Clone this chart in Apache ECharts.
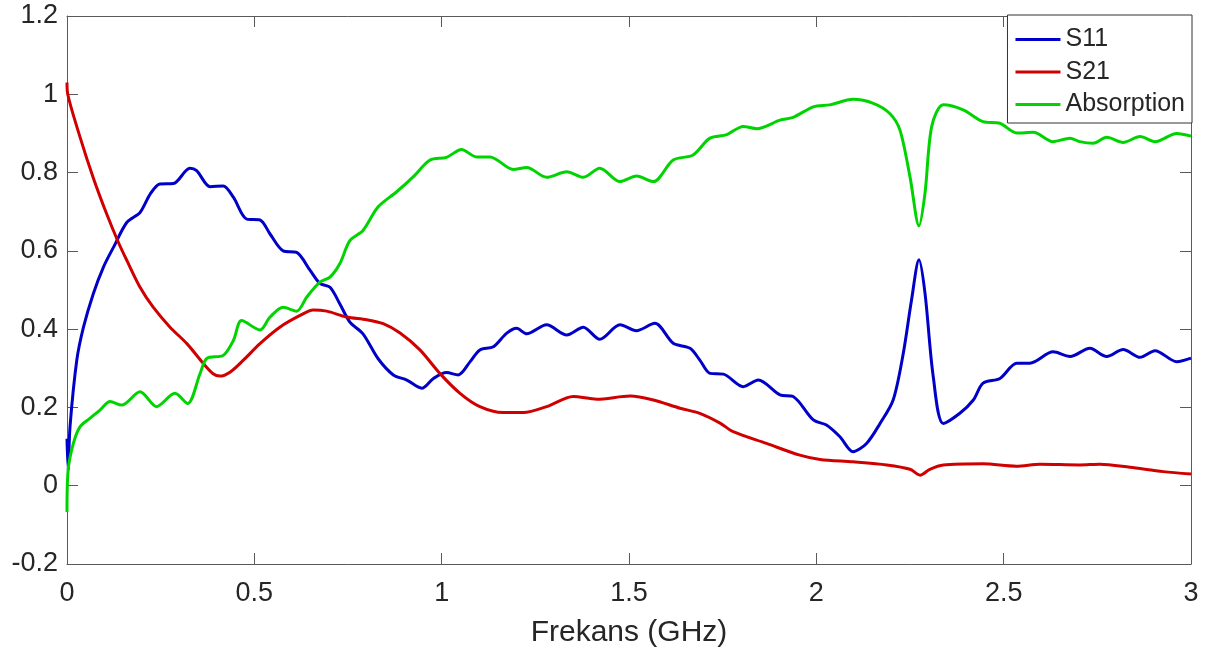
<!DOCTYPE html>
<html>
<head>
<meta charset="utf-8">
<script src="https://cdn.jsdelivr.net/npm/echarts@6/dist/echarts.min.js"></script>
<style>
html,body{margin:0;padding:0;background:#fff;}
#chart{width:1215px;height:655px;}
</style>
</head>
<body>
<div id="chart"></div>
<script>
// ---- Data ----
const seriesNames = ["S11", "S21", "Absorption"];
const xTicks = [0, 0.5, 1, 1.5, 2, 2.5, 3];
const yTicks = [-0.2, 0, 0.2, 0.4, 0.6, 0.8, 1, 1.2];
const xAxisName = "Frekans (GHz)";

const s11X = [0,0.003,0.008,0.026,0.044,0.07,0.097,0.124,0.16,0.195,0.222,0.248,0.284,0.328,0.346,0.382,0.417,0.444,0.48,0.515,0.542,0.577,0.613,0.649,0.675,0.702,0.728,0.755,0.79,0.83,0.871,0.907,0.947,0.978,1.013,1.044,1.076,1.102,1.138,1.173,1.2,1.227,1.28,1.334,1.378,1.422,1.476,1.52,1.569,1.618,1.663,1.689,1.716,1.752,1.805,1.845,1.903,1.938,1.992,2.027,2.063,2.098,2.134,2.17,2.205,2.232,2.254,2.274,2.29,2.312,2.339,2.383,2.419,2.445,2.49,2.535,2.57,2.632,2.677,2.73,2.775,2.819,2.864,2.904,2.962,3.0];
const s11Y = [0.12,0.04,0.15,0.32,0.405,0.49,0.558,0.609,0.673,0.698,0.745,0.771,0.772,0.811,0.805,0.764,0.766,0.737,0.681,0.679,0.643,0.60,0.596,0.55,0.517,0.507,0.465,0.418,0.388,0.325,0.283,0.270,0.249,0.274,0.289,0.283,0.317,0.347,0.355,0.389,0.402,0.388,0.411,0.385,0.405,0.374,0.411,0.396,0.415,0.364,0.351,0.321,0.287,0.285,0.253,0.270,0.232,0.228,0.168,0.155,0.125,0.087,0.108,0.159,0.219,0.338,0.474,0.577,0.492,0.279,0.159,0.185,0.219,0.262,0.274,0.313,0.313,0.342,0.33,0.351,0.33,0.348,0.328,0.345,0.317,0.326];

const s21X = [0,0.002,0.035,0.07,0.106,0.137,0.16,0.195,0.23,0.275,0.32,0.364,0.39,0.408,0.435,0.47,0.515,0.568,0.622,0.657,0.693,0.746,0.80,0.844,0.889,0.942,0.995,1.049,1.102,1.164,1.218,1.28,1.351,1.414,1.503,1.565,1.636,1.689,1.743,1.778,1.867,1.956,2.01,2.098,2.188,2.25,2.277,2.303,2.339,2.445,2.534,2.597,2.703,2.757,2.837,2.926,3.0];
const s21Y = [1.03,1.0,0.89,0.787,0.694,0.622,0.575,0.507,0.456,0.405,0.363,0.312,0.286,0.28,0.29,0.32,0.363,0.405,0.435,0.449,0.446,0.431,0.424,0.414,0.39,0.347,0.287,0.236,0.202,0.187,0.187,0.202,0.228,0.221,0.229,0.219,0.198,0.185,0.16,0.138,0.108,0.078,0.067,0.061,0.053,0.042,0.027,0.042,0.053,0.056,0.05,0.055,0.053,0.055,0.047,0.036,0.03];

const absX = [0,0.003,0.017,0.035,0.061,0.088,0.115,0.146,0.195,0.239,0.288,0.322,0.355,0.373,0.417,0.444,0.466,0.515,0.542,0.577,0.613,0.64,0.675,0.702,0.728,0.755,0.79,0.83,0.88,0.924,0.969,1.013,1.053,1.093,1.129,1.191,1.227,1.28,1.334,1.378,1.422,1.476,1.52,1.565,1.618,1.671,1.716,1.761,1.805,1.841,1.903,1.938,1.992,2.036,2.098,2.152,2.196,2.223,2.25,2.274,2.29,2.308,2.339,2.392,2.445,2.49,2.535,2.579,2.632,2.677,2.703,2.739,2.775,2.819,2.864,2.904,2.962,3.0];
const absY = [-0.067,0.04,0.108,0.151,0.172,0.193,0.215,0.206,0.24,0.202,0.236,0.21,0.286,0.325,0.333,0.371,0.422,0.398,0.431,0.456,0.446,0.482,0.52,0.533,0.567,0.626,0.652,0.712,0.751,0.789,0.832,0.839,0.859,0.84,0.84,0.808,0.813,0.788,0.802,0.788,0.811,0.777,0.791,0.777,0.832,0.845,0.888,0.897,0.918,0.912,0.934,0.941,0.968,0.973,0.987,0.977,0.951,0.909,0.789,0.664,0.747,0.918,0.973,0.96,0.93,0.926,0.901,0.903,0.879,0.888,0.879,0.875,0.89,0.877,0.892,0.879,0.9,0.893];

const colors = ["#0000c8", "#d00000", "#00d400"];

// ---- Build ----
function zip(xs, ys){ return xs.map((x,i)=>[x, ys[i]]); }
const FONT = "'Liberation Sans', Arial, sans-serif";
const AX = "#5a5a5a";
const TXT = "#262626";

const chart = echarts.init(document.getElementById('chart'), null, {renderer:'canvas'});

const xBase = {type:'value', min:xTicks[0], max:xTicks[xTicks.length-1], interval:0.5,
  splitLine:{show:false},
  axisLine:{show:true, onZero:false, lineStyle:{color:AX, width:1}},
  axisTick:{show:true, inside:true, length:11, lineStyle:{color:AX}}};
const yBase = {type:'value', min:yTicks[0], max:yTicks[yTicks.length-1], interval:0.2,
  splitLine:{show:false},
  axisLine:{show:true, onZero:false, lineStyle:{color:AX, width:1}},
  axisTick:{show:true, inside:true, length:11, lineStyle:{color:AX}}};

const option = {
  animation:false,
  backgroundColor:'#ffffff',
  textStyle:{fontFamily:FONT},
  grid:{left:67, right:24, top:16, bottom:91, containLabel:false, show:false},
  legend:{
    show:true, orient:'vertical', right:23, top:15,
    data:seriesNames,
    icon:'rect', itemWidth:45, itemHeight:3, itemGap:7.5,
    padding:[12,7,6,8],
    backgroundColor:'#ffffff', borderColor:'#333333', borderWidth:1, borderRadius:0,
    textStyle:{fontFamily:FONT, fontSize:25, color:TXT, lineHeight:25}
  },
  xAxis:[
    Object.assign({}, xBase, {position:'bottom',
      name:xAxisName, nameLocation:'middle', nameGap:54,
      nameTextStyle:{fontFamily:FONT, fontSize:30, color:TXT},
      axisLabel:{show:true, margin:16, fontFamily:FONT, fontSize:27, color:TXT}}),
    Object.assign({}, xBase, {position:'top', axisLabel:{show:false}})
  ],
  yAxis:[
    Object.assign({}, yBase, {position:'left',
      axisLabel:{show:true, margin:9, fontFamily:FONT, fontSize:27, color:TXT,
        formatter:function(v){ return String(Math.round(v*10)/10); }}}),
    Object.assign({}, yBase, {position:'right', axisLabel:{show:false}})
  ],
  series:[
    {name:seriesNames[0], type:'line', data:zip(s11X, s11Y), symbol:'none', smooth:0.3,
      lineStyle:{color:colors[0], width:3}, itemStyle:{color:colors[0]}},
    {name:seriesNames[1], type:'line', data:zip(s21X, s21Y), symbol:'none', smooth:0.3,
      lineStyle:{color:colors[1], width:3}, itemStyle:{color:colors[1]}},
    {name:seriesNames[2], type:'line', data:zip(absX, absY), symbol:'none', smooth:0.3,
      lineStyle:{color:colors[2], width:3}, itemStyle:{color:colors[2]}}
  ]
};
chart.setOption(option);
</script>
</body>
</html>
